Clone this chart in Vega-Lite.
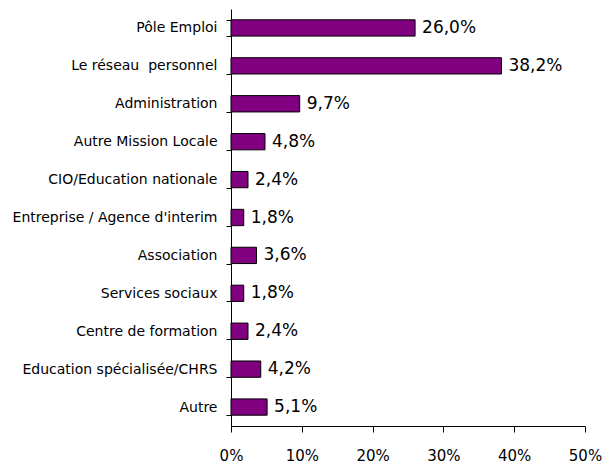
{
  "$schema": "https://vega.github.io/schema/vega-lite/v6.json",
  "autosize": "none",
  "width": 354,
  "height": 417,
  "padding": {"left": 231, "top": 9, "right": 20, "bottom": 41},
  "config": {
    "view": {"stroke": null},
    "locale": {"number": {"decimal": ",", "thousands": " ", "grouping": [3], "currency": ["", " €"]}},
    "font": "DejaVu Sans"
  },
  "data": {"values": [
    {"cat": "Pôle Emploi", "value": 0.260},
    {"cat": "Le réseau\u00a0 personnel", "value": 0.382},
    {"cat": "Administration", "value": 0.097},
    {"cat": "Autre Mission Locale", "value": 0.048},
    {"cat": "CIO/Education nationale", "value": 0.024},
    {"cat": "Entreprise / Agence d'interim", "value": 0.018},
    {"cat": "Association", "value": 0.036},
    {"cat": "Services sociaux", "value": 0.018},
    {"cat": "Centre de formation", "value": 0.024},
    {"cat": "Education spécialisée/CHRS", "value": 0.042},
    {"cat": "Autre", "value": 0.051}
  ]},
  "encoding": {
    "y": {"field": "cat", "type": "nominal", "sort": null, "title": null,
      "scale": {"paddingInner": 0.57, "paddingOuter": 0.285},
      "axis": {"tickBand": "extent", "domainColor": "black", "tickColor": "black", "tickSize": 5, "labelPadding": 9, "labelFontSize": 14, "labelColor": "black", "labelFont": "DejaVu Sans", "labelLimit": 300}},
    "x": {"field": "value", "type": "quantitative", "title": null,
      "scale": {"domain": [0, 0.5]},
      "axis": {"format": ".0%", "values": [0, 0.1, 0.2, 0.3, 0.4, 0.5], "grid": false, "labelFlush": false, "labelOverlap": false, "domainColor": "black", "tickColor": "black", "tickSize": 6, "labelPadding": 16, "labelFontSize": 15, "labelColor": "black", "labelFont": "DejaVu Sans"}}
  },
  "layer": [
    {"mark": {"type": "bar", "color": "#800080", "stroke": "black", "strokeWidth": 1}},
    {"mark": {"type": "text", "align": "left", "dx": 7, "fontSize": 17, "color": "black", "font": "DejaVu Sans"},
     "encoding": {"text": {"field": "value", "type": "quantitative", "format": ".1%"}}}
  ]
}
